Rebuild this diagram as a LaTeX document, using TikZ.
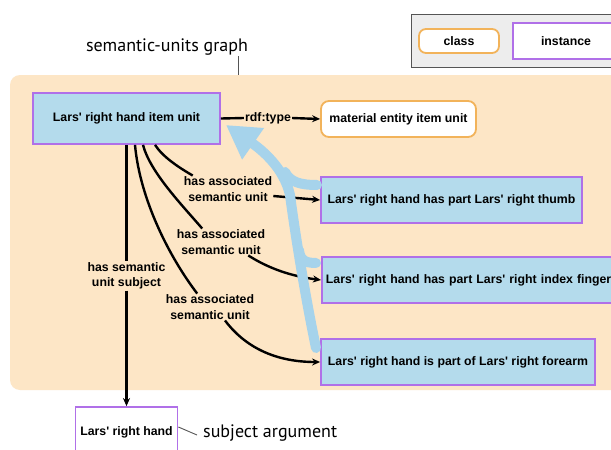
\documentclass[tikz,border=0pt]{standalone}
\usepackage{fontspec}
\setmainfont{Liberation Sans}
\newfontfamily\annotfont{PT Sans}
\usetikzlibrary{arrows.meta}
\newcommand{\ap}{\textquotesingle}
\definecolor{bgor}{HTML}{FDE6C6}
\definecolor{nodeblue}{HTML}{B4DBEC}
\definecolor{purp}{HTML}{B070E8}
\definecolor{orb}{HTML}{F2B35A}
\definecolor{arrblue}{HTML}{A6D3EB}
\definecolor{leggray}{HTML}{EDEDED}
\definecolor{legbord}{HTML}{555555}
\begin{document}
\begin{tikzpicture}[x=1pt,y=-1pt,
  inst/.style={draw=purp, line width=1.8pt, fill=nodeblue, inner sep=0pt,
    font={\fontsize{12.3}{15}\selectfont\bfseries}},
  cls/.style={draw=orb, line width=1.8pt, fill=white, rounded corners=7pt, inner sep=0pt,
    font={\fontsize{12.3}{15}\selectfont\bfseries}},
  lab/.style={inner sep=1pt, align=center, font={\fontsize{12.3}{15.5}\selectfont\bfseries}},
  edge/.style={line width=2.4pt, black, -{Stealth[length=8pt,width=7pt]}},
  edgeplain/.style={line width=2.4pt, black},
  bluepath/.style={line width=10pt, arrblue, line cap=round},
  leader/.style={line width=0.9pt, legbord},
  annot/.style={inner sep=0pt, font={\annotfont\fontsize{18}{20}\selectfont}}
]
\useasboundingbox (0,0) rectangle (611,450);
\clip (0,0) rectangle (611,450);
\fill[white] (0,0) rectangle (611,450);

% legend
\node[draw=legbord, fill=leggray, line width=1.2pt, anchor=north west, inner sep=0pt,
  minimum width=240pt, minimum height=53pt] (legend) at (411,14) {};
\node[cls, minimum width=80pt, minimum height=24pt] (lclass) at (459,41) {class};
\node[inst, fill=white, minimum width=106pt, minimum height=36pt] (linst) at (566,41) {instance};

% title
\node[annot] (sug) at (167,47) {semantic-units graph};
\coordinate (g1) at (238,56);
\coordinate (g2) at (238,76);
\draw[leader] (g1) -- (g2);

% background region
\fill[bgor, rounded corners=10pt] (10,75) rectangle (660,390);

% nodes
\node[inst, minimum width=187pt, minimum height=51pt] (item) at (126.5,118.5) {Lars\ap{} right hand item unit};
\node[cls, minimum width=155pt, minimum height=36pt, rounded corners=8pt] (mat) at (398.5,119) {material entity item unit};
\node[inst, minimum width=261pt, minimum height=46pt] (thumb) at (451.5,200) {Lars\ap{} right hand has part Lars\ap{} right thumb};
\node[inst, anchor=west, text width=318pt, align=left, inner xsep=4pt, minimum height=46pt] (index) at (321,280) {Lars\ap{} right hand has part Lars\ap{} right index finger};
\node[inst, minimum width=274pt, minimum height=46pt] (fore) at (458,362) {Lars\ap{} right hand is part of Lars\ap{} right forearm};
\node[inst, fill=white, minimum width=102pt, minimum height=50pt] (subj) at (126.5,432) {Lars\ap{} right hand};

\node[annot, anchor=west] (subarg) at (203,433) {subject argument};
\draw[leader] (subj.east |- 0,427) -- ([xshift=-6pt]subarg.west |- 0,435);

% labels
\node[lab] (rdf) at (268,118) {rdf:type};
\node[lab] (l1) at (228,189) {has associated\\semantic unit};
\node[lab] (l2) at (221,242) {has associated\\semantic unit};
\node[lab] (l3) at (210,307) {has associated\\semantic unit};
\node[lab, fill=bgor] (l4) at (126.5,276) {has semantic\\unit subject};

% edges
\draw[edgeplain] (item.east) -- (rdf.west);
\draw[edge] (rdf.east) -- (mat.west);

\draw[edgeplain] (item.south) -- (l4.north);
\draw[edge] (l4.south) -- (subj.north);

\coordinate (s1) at ([xshift=28.5pt]item.south);
\coordinate (s2) at ([xshift=16.5pt]item.south);
\coordinate (s3) at ([xshift=8.5pt]item.south);

\draw[edgeplain] (s1) .. controls (163,157) and (178,167) .. ([xshift=10pt]l1.north west);
\draw[edge] ([yshift=-7pt]l1.east) -- (thumb.west);

\draw[edgeplain] (s2) .. controls (150,172) and (182,205) .. ([xshift=26.5pt]l2.north west);
\draw[edge] ([xshift=-18pt]l2.south east) .. controls (268,268) and (290,276) .. (index.west);

\draw[edgeplain] (s3) .. controls (140,200) and (170,258) .. ([xshift=32.5pt]l3.north west);
\draw[edge] ([xshift=15pt]l3.south) .. controls (245,347) and (275,362) .. (fore.west);

% big blue arrow
\coordinate (fb) at (316,348);
\coordinate (tb) at (317,185);
\coordinate (ib) at (316,263);
\coordinate (tip) at (226,125);
\draw[bluepath, -{Triangle[length=33pt,width=36pt]}] (fb) .. controls (306,300) and (296,240) .. (290,195)
   .. controls (284,168) and (262,150) .. (tip);
\draw[bluepath] (tb) .. controls (300,185) and (290,182) .. (285,172);
\draw[bluepath] (ib) .. controls (305,263) and (300,260) .. (299,250);
\end{tikzpicture}
\end{document}
